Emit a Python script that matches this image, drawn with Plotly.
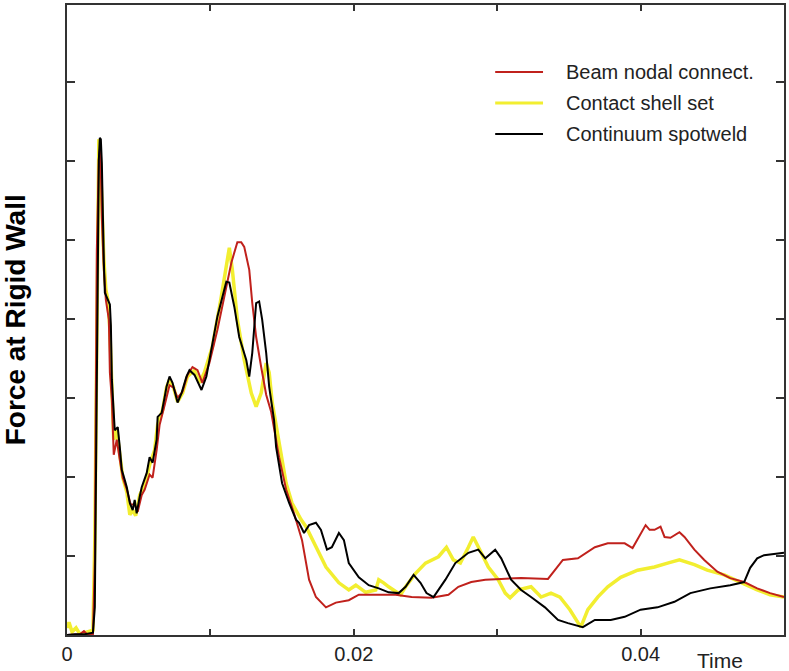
import plotly.graph_objects as go

# ---- data (time in ms, force in axis-tick units) ----
beam_t = [0.00, 0.90, 1.18, 1.39, 1.81, 1.94, 2.08, 2.22, 2.29, 2.36, 2.43, 2.57, 2.71, 2.92, 2.99,
          3.13, 3.26, 3.47, 3.68, 3.89, 4.17, 4.44, 4.72, 4.93, 5.21, 5.42, 5.76, 5.97, 6.25, 6.46,
          6.81, 7.15, 7.43, 7.71, 8.06, 8.40, 8.75, 9.10, 9.44, 9.93, 10.49, 10.97, 11.46, 11.88,
          12.15, 12.36, 12.71, 12.92, 13.19, 13.54, 13.89, 14.24, 14.58, 14.79, 15.28, 15.83, 16.39,
          16.88, 17.36, 18.06, 18.75, 19.65, 20.35, 21.74, 22.92, 24.03, 25.42, 26.60, 27.29, 28.19,
          29.17, 30.28, 31.67, 33.54, 34.10, 34.58, 35.63, 36.81, 37.71, 38.89, 39.44, 40.00, 40.35, 40.63,
          40.97, 41.39, 41.67, 42.08, 42.71, 43.06, 43.75, 44.44, 45.35, 46.25, 47.22, 48.13, 49.03,
          50.00]
beam_f = [0.00, 0.01, 0.05, 0.01, 0.01, 0.95, 4.87, 6.01, 6.14, 5.89, 5.28, 4.62, 4.24, 3.99, 3.32,
          2.97, 2.28, 2.47, 2.22, 1.99, 1.84, 1.65, 1.65, 1.56, 1.77, 1.84, 2.03, 1.99, 2.34, 2.66,
          2.91, 3.16, 3.13, 3.00, 3.08, 3.29, 3.39, 3.35, 3.19, 3.44, 3.86, 4.28, 4.71, 4.97,
          4.97, 4.91, 4.62, 4.20, 3.77, 3.39, 3.04, 2.82, 2.47, 2.25, 1.84, 1.54, 1.20,
          0.70, 0.48, 0.35, 0.41, 0.44, 0.51, 0.51, 0.51, 0.48, 0.47, 0.51, 0.61, 0.67,
          0.70, 0.71, 0.72, 0.71, 0.84, 0.95, 0.97, 1.11, 1.16, 1.16, 1.10, 1.29, 1.39, 1.33,
          1.33, 1.37, 1.24, 1.23, 1.30, 1.24, 1.08, 0.95, 0.80, 0.72, 0.67, 0.59, 0.53,
          0.48]

shell_t = [0.00, 0.14, 0.35, 0.63, 0.90, 1.46, 1.81, 1.94, 2.08, 2.22, 2.29, 2.43, 2.57, 2.71, 2.85,
           2.99, 3.13, 3.26, 3.47, 3.68, 3.89, 4.17, 4.38, 4.58, 4.79, 5.07, 5.42, 5.76, 6.11, 6.32,
           6.67, 6.94, 7.15, 7.43, 7.71, 8.06, 8.40, 8.89, 9.24, 9.58, 10.14, 10.76, 11.11, 11.32,
           11.53, 11.88, 12.36, 12.85, 13.19, 13.54, 13.89, 14.10, 14.31, 14.65, 15.28, 15.69, 16.32,
           16.67, 17.36, 18.06, 18.96, 19.65, 20.14, 20.83, 21.53, 21.74, 22.08, 22.43, 23.26, 23.61,
           24.31, 25.00, 25.90, 26.46, 26.94, 27.43, 27.99, 28.33, 28.89, 29.38, 30.07, 30.56, 30.90,
           31.46, 32.36, 33.06, 33.75, 34.38, 35.07, 35.83, 36.32, 37.01, 37.71, 38.61, 39.79, 40.97,
           41.88, 42.71, 43.75, 44.65, 45.83, 46.94, 48.13, 49.03, 50.00]
shell_f = [0.09, 0.16, 0.04, 0.09, 0.01, 0.04, 0.06, 1.20, 4.24, 6.27, 6.20, 5.51, 4.75, 4.37, 4.24,
           3.86, 3.10, 2.47, 2.59, 2.28, 1.99, 1.81, 1.52, 1.58, 1.51, 1.77, 1.90, 2.15, 2.34, 2.66,
           2.85, 3.13, 3.23, 3.13, 2.95, 3.06, 3.27, 3.35, 3.19, 3.32, 3.65, 4.28, 4.66, 4.90,
           4.62, 3.99, 3.48, 3.06, 2.89, 3.06, 3.44, 3.32, 2.94, 2.56, 1.92, 1.67, 1.46,
           1.37, 1.11, 0.86, 0.66, 0.57, 0.63, 0.54, 0.57, 0.70, 0.66, 0.61, 0.51, 0.61,
           0.78, 0.91, 0.99, 1.11, 0.95, 0.91, 1.11, 1.24, 1.04, 0.86, 0.70, 0.53, 0.47,
           0.57, 0.61, 0.48, 0.53, 0.48, 0.32, 0.10, 0.32, 0.48, 0.61, 0.73, 0.82, 0.86,
           0.91, 0.95, 0.89, 0.82, 0.76, 0.67, 0.57, 0.51, 0.48]

spot_t = [0.00, 0.56, 1.25, 1.81, 1.94, 2.08, 2.22, 2.29, 2.36, 2.43, 2.50, 2.57, 2.64, 2.78, 2.99,
          3.06, 3.13, 3.33, 3.54, 3.68, 3.82, 4.03, 4.17, 4.38, 4.58, 4.72, 4.86, 5.07, 5.21, 5.56,
          5.76, 5.97, 6.25, 6.32, 6.60, 6.81, 6.94, 7.15, 7.36, 7.71, 7.99, 8.33, 8.54, 8.89, 9.38,
          9.72, 10.14, 10.49, 11.11, 11.32, 11.67, 12.01, 12.50, 12.71, 12.92, 13.19, 13.40, 13.61,
          13.89, 14.10, 14.44, 14.58, 15.00, 15.49, 15.97, 16.18, 16.53, 16.88, 17.36, 17.71, 18.13,
          18.47, 18.96, 19.31, 19.65, 20.35, 21.04, 21.74, 22.43, 23.13, 23.61, 24.17, 24.65, 25.07,
          25.56, 26.39, 27.08, 27.99, 28.68, 29.17, 29.86, 30.28, 30.97, 31.67, 32.36, 33.33, 34.24,
          34.93, 35.97, 36.81, 37.92, 38.89, 40.00, 41.18, 42.36, 43.47, 44.86, 46.25, 47.22, 47.64,
          48.13, 48.61, 50.00]
spot_f = [0.00, 0.01, 0.01, 0.03, 0.35, 2.97, 6.01, 6.29, 6.27, 5.97, 5.13, 4.72, 4.33, 4.27, 4.18,
          3.92, 3.23, 2.59, 2.63, 2.38, 2.09, 1.96, 1.87, 1.67, 1.58, 1.71, 1.54, 1.75, 1.87, 2.05,
          2.25, 2.18, 2.47, 2.76, 2.81, 3.01, 3.14, 3.27, 3.19, 2.94, 3.06, 3.27, 3.35, 3.29, 3.10,
          3.27, 3.70, 4.03, 4.47, 4.46, 4.15, 3.77, 3.48, 3.27, 3.57, 4.20, 4.22, 3.99,
          3.57, 3.14, 2.72, 2.38, 1.92, 1.67, 1.46, 1.42, 1.29, 1.39, 1.42, 1.33, 1.08,
          1.11, 1.29, 1.20, 0.91, 0.73, 0.63, 0.59, 0.54, 0.53, 0.61, 0.76, 0.66, 0.53,
          0.48, 0.70, 0.91, 1.04, 1.08, 0.97, 1.08, 0.97, 0.70, 0.57, 0.48, 0.35, 0.19,
          0.15, 0.10, 0.19, 0.19, 0.23, 0.32, 0.35, 0.42, 0.53, 0.59, 0.63, 0.67, 0.85,
          0.97, 1.01, 1.04]

series_names = ["Beam nodal connect.", "Contact shell set", "Continuum spotweld"]
series_colors = ["#c0211c", "#f2ee30", "#000000"]

x_tickvals = [0.0, 0.01, 0.02, 0.03, 0.04, 0.05]
x_ticktext = ["0", "", "0.02", "", "0.04", ""]

FONT = "Liberation Sans, Arial, sans-serif"

fig = go.Figure()
# draw order: yellow, red, black
fig.add_trace(go.Scatter(x=[t / 1000 for t in shell_t], y=shell_f, mode="lines",
                         name=series_names[1], line=dict(color=series_colors[1], width=3.5),
                         showlegend=False))
fig.add_trace(go.Scatter(x=[t / 1000 for t in beam_t], y=beam_f, mode="lines",
                         name=series_names[0], line=dict(color=series_colors[0], width=2),
                         showlegend=False))
fig.add_trace(go.Scatter(x=[t / 1000 for t in spot_t], y=spot_f, mode="lines",
                         name=series_names[2], line=dict(color=series_colors[2], width=2),
                         showlegend=False))

# manual legend
leg_y = [0.8937, 0.8444, 0.7952]
shapes = []
annotations = []
for name, col, yy, w in zip(series_names, series_colors, leg_y, [2, 3, 2]):
    shapes.append(dict(type="line", xref="paper", yref="paper", x0=0.5972, x1=0.6639,
                       y0=yy, y1=yy, line=dict(color=col, width=w)))
    annotations.append(dict(xref="paper", yref="paper", x=0.6931, y=yy, text=name,
                            showarrow=False, xanchor="left", yanchor="middle",
                            font=dict(family=FONT, size=20, color="#222")))

annotations.append(dict(xref="paper", yref="paper", x=0.911, y=-0.04, text="Time",
                        showarrow=False, xanchor="center", yanchor="middle",
                        font=dict(family=FONT, size=21, color="#222")))
annotations.append(dict(xref="paper", yref="paper", x=-0.0722, y=0.5,
                        text="<b>Force at Rigid Wall</b>", textangle=-90,
                        showarrow=False, xanchor="center", yanchor="middle",
                        font=dict(family=FONT, size=28, color="#000")))

fig.update_layout(
    width=789, height=671,
    margin=dict(l=67, r=3, t=5, b=36),
    paper_bgcolor="white", plot_bgcolor="white",
    showlegend=False,
    shapes=shapes, annotations=annotations,
    font=dict(family=FONT, color="#222"),
)
fig.update_xaxes(range=[0, 0.05], tickvals=x_tickvals, ticktext=x_ticktext,
                 ticks="inside", ticklen=6, tickwidth=1.5, tickcolor="#333",
                 showline=True, linecolor="#333", linewidth=1.5, mirror="ticks",
                 showgrid=False, zeroline=False,
                 tickfont=dict(family=FONT, size=20, color="#222"))
fig.update_yaxes(range=[0, 7.97], dtick=1, tick0=0, showticklabels=False,
                 ticks="inside", ticklen=8, tickwidth=1.5, tickcolor="#333",
                 showline=True, linecolor="#333", linewidth=1.5, mirror="ticks",
                 showgrid=False, zeroline=False)

fig.write_html("out.html", config={"displayModeBar": False},
               post_script="document.body.style.margin='0';document.body.style.overflow='hidden';")
